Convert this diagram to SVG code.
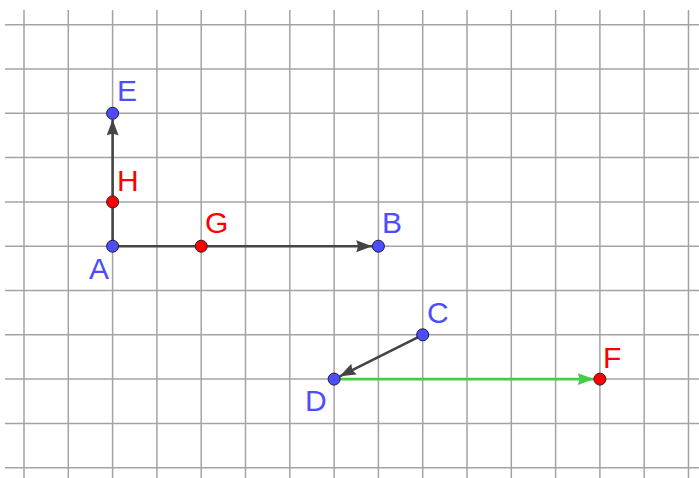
<svg xmlns="http://www.w3.org/2000/svg" width="699" height="478" viewBox="0 0 699 478">
<style>
.grid line{stroke:#a3a3a3;stroke-width:1.5}
.seg{stroke:#444;stroke-width:2.6;fill:none}
.gseg{stroke:#44cc44;stroke-width:2.6;fill:none}
.pb{fill:#4d4dff;stroke:#1a1a3a;stroke-width:1}
.pr{fill:#ff0000;stroke:#3a1a1a;stroke-width:1}
.lb{font-family:"Liberation Sans",Arial,sans-serif;font-size:30px;fill:#4d4dff}
.lr{font-family:"Liberation Sans",Arial,sans-serif;font-size:30px;fill:#ff0000}
</style>
<defs>
<marker id="ah" markerUnits="userSpaceOnUse" markerWidth="18" markerHeight="14" refX="16" refY="6" orient="auto"><path d="M0,0 L16,6 L0,12 L2,6 Z" fill="#444"/></marker>
<marker id="ahg" markerUnits="userSpaceOnUse" markerWidth="18" markerHeight="14" refX="16" refY="6" orient="auto"><path d="M0,0 L16,6 L0,12 L2,6 Z" fill="#44cc44"/></marker>
</defs>
<rect width="699" height="478" fill="#fff"/>
<g class="grid">
<line x1="24" y1="10" x2="24" y2="478"/>
<line x1="68.3" y1="10" x2="68.3" y2="478"/>
<line x1="112.6" y1="10" x2="112.6" y2="478"/>
<line x1="156.9" y1="10" x2="156.9" y2="478"/>
<line x1="201.2" y1="10" x2="201.2" y2="478"/>
<line x1="245.5" y1="10" x2="245.5" y2="478"/>
<line x1="289.8" y1="10" x2="289.8" y2="478"/>
<line x1="334.1" y1="10" x2="334.1" y2="478"/>
<line x1="378.4" y1="10" x2="378.4" y2="478"/>
<line x1="422.7" y1="10" x2="422.7" y2="478"/>
<line x1="467" y1="10" x2="467" y2="478"/>
<line x1="511.3" y1="10" x2="511.3" y2="478"/>
<line x1="555.6" y1="10" x2="555.6" y2="478"/>
<line x1="599.9" y1="10" x2="599.9" y2="478"/>
<line x1="644.2" y1="10" x2="644.2" y2="478"/>
<line x1="688.5" y1="10" x2="688.5" y2="478"/>
<line x1="5" y1="24.7" x2="699" y2="24.7"/>
<line x1="5" y1="69" x2="699" y2="69"/>
<line x1="5" y1="113.3" x2="699" y2="113.3"/>
<line x1="5" y1="157.6" x2="699" y2="157.6"/>
<line x1="5" y1="201.9" x2="699" y2="201.9"/>
<line x1="5" y1="246.2" x2="699" y2="246.2"/>
<line x1="5" y1="290.5" x2="699" y2="290.5"/>
<line x1="5" y1="334.8" x2="699" y2="334.8"/>
<line x1="5" y1="379.1" x2="699" y2="379.1"/>
<line x1="5" y1="423.4" x2="699" y2="423.4"/>
<line x1="5" y1="467.7" x2="699" y2="467.7"/>
</g>
<g id="connectors">
<line class="seg" x1="112.6" y1="246.2" x2="112.6" y2="119.5" marker-end="url(#ah)"/>
<line class="seg" x1="112.6" y1="246.2" x2="372.2" y2="246.2" marker-end="url(#ah)"/>
<line class="seg" x1="422.7" y1="334.8" x2="339.7" y2="376.3" marker-end="url(#ah)"/>
<line class="gseg" x1="334.1" y1="379.1" x2="593.7" y2="379.1" marker-end="url(#ahg)"/>
</g>
<g id="A"><circle class="pb" cx="112.6" cy="246.2" r="6"/><text class="lb" x="89" y="279">A</text></g>
<g id="E"><circle class="pb" cx="112.6" cy="113.3" r="6"/><text class="lb" x="117" y="101">E</text></g>
<g id="H"><circle class="pr" cx="112.6" cy="201.9" r="6"/><text class="lr" x="117" y="191">H</text></g>
<g id="G"><circle class="pr" cx="201.2" cy="246.2" r="6"/><text class="lr" x="205" y="233">G</text></g>
<g id="B"><circle class="pb" cx="378.4" cy="246.2" r="6"/><text class="lb" x="382" y="233">B</text></g>
<g id="C"><circle class="pb" cx="422.7" cy="334.8" r="6"/><text class="lb" x="427" y="323">C</text></g>
<g id="D"><circle class="pb" cx="334.1" cy="379.1" r="6"/><text class="lb" x="305" y="411">D</text></g>
<g id="F"><circle class="pr" cx="599.9" cy="379.1" r="6"/><text class="lr" x="603" y="368">F</text></g>
</svg>
